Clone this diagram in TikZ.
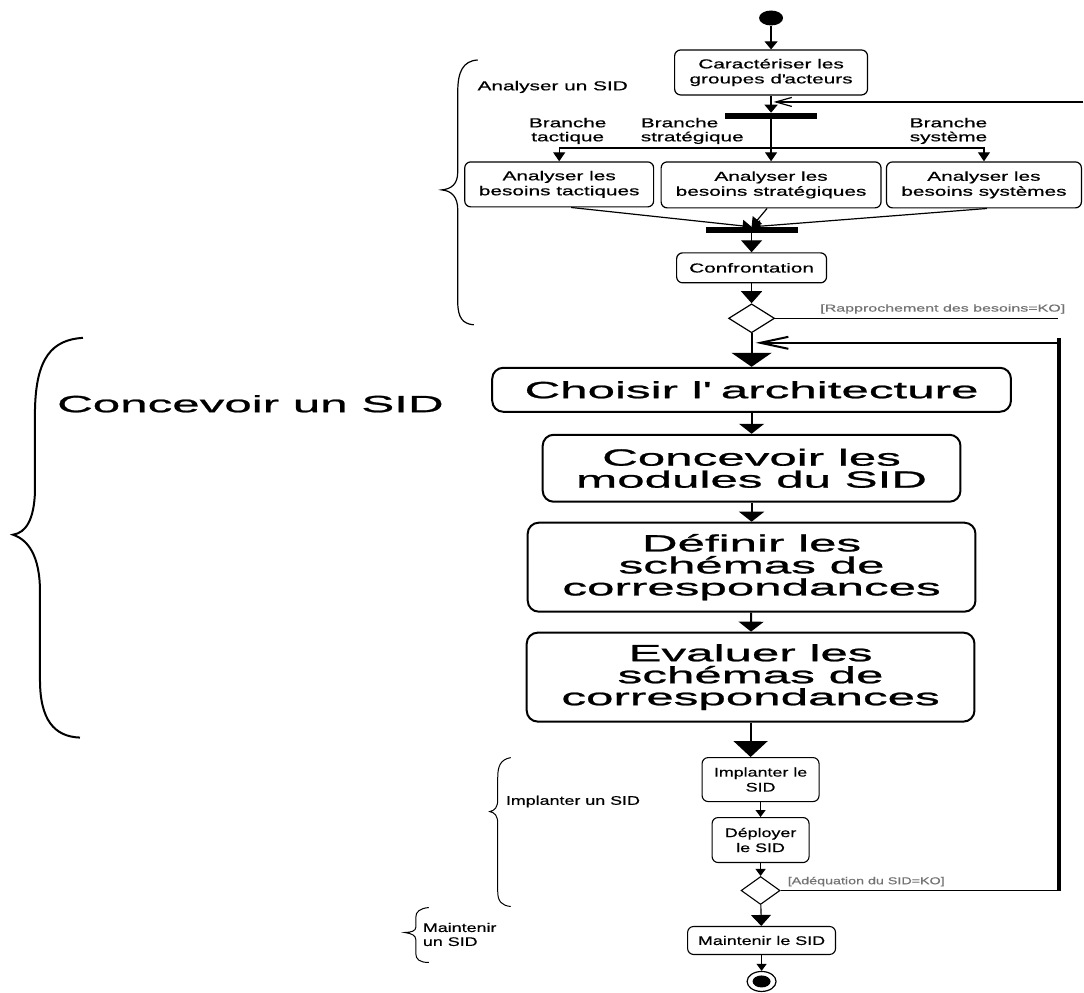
\documentclass[tikz,border=0pt]{standalone}
\usepackage{fontspec}
\usetikzlibrary{shapes.geometric,arrows.meta}
\newfontfamily\fT[FakeStretch=1.6,FakeBold=0.6]{Liberation Sans}
\newfontfamily\fM[FakeStretch=2.1,FakeBold=1]{Liberation Sans}
\newfontfamily\fB[FakeStretch=1.43,FakeBold=0.5]{Liberation Sans}
\tikzset{
  boxT/.style={draw, rounded corners=6pt, line width=1.2pt, inner sep=0pt, align=center,
    font=\fT\fontsize{13}{15}\selectfont},
  boxM/.style={draw, rounded corners=11pt, line width=2pt, inner sep=0pt, align=center,
    font=\fM\fontsize{23.5}{22}\selectfont},
  boxB/.style={draw, rounded corners=6pt, line width=1.1pt, inner sep=0pt, align=center,
    font=\fB\fontsize{12.5}{15}\selectfont},
  lblT/.style={inner sep=0pt, align=center, font=\fT\fontsize{13}{14}\selectfont},
  lblM/.style={inner sep=0pt, align=center, font=\fM\fontsize{23.5}{22}\selectfont},
  lblB/.style={inner sep=0pt, align=center, font=\fB\fontsize{12.5}{14}\selectfont},
  guardT/.style={inner sep=0pt, text=black!55, font=\fT\fontsize{10}{12}\selectfont},
  guardB/.style={inner sep=0pt, text=black!55, font=\fB\fontsize{10}{12}\selectfont},
  syncbar/.style={fill=black, draw=none, minimum height=6pt, inner sep=0pt},
  decision/.style={diamond, draw, line width=1.2pt, inner sep=0pt},
  startdot/.style={ellipse, fill=black, minimum width=24pt, minimum height=15pt, inner sep=0pt},
  endring/.style={ellipse, draw, line width=1.2pt, minimum width=29pt, minimum height=20pt, inner sep=0pt},
  enddot/.style={ellipse, fill=black, minimum width=18pt, minimum height=12pt, inner sep=0pt},
  lnT/.style={line width=1.2pt},
  lnM/.style={line width=2pt},
  aT/.style={lnT, -{Triangle[width=13pt,length=8pt]}},
  aTs/.style={lnT, -{Triangle[width=12pt,length=9pt]}},
  aTb/.style={lnT, -{Triangle[width=21pt,length=12pt]}},
  aM/.style={lnM, -{Triangle[width=25pt,length=10pt]}},
  aL/.style={lnM, -{Triangle[width=40pt,length=14pt]}},
  aLb/.style={lnM, -{Triangle[width=34pt,length=16pt]}},
  aB/.style={line width=1.1pt, -{Triangle[width=10pt,length=7pt]}},
  aBb/.style={line width=1.1pt, -{Triangle[width=20pt,length=11pt]}},
  openT/.style={lnT, -{Straight Barb[length=16pt,width=9pt]}},
  openM/.style={lnM, -{Straight Barb[length=28pt,width=12pt]}},
}
\begin{document}
\begin{tikzpicture}[x=1pt,y=-1pt]
\fill[white] (0,0) rectangle (1084,992);

% ---------- Analyser un SID ----------
\node[startdot] (start) at (771.5,18) {};
\node[boxT, minimum width=193pt, minimum height=45pt] (c1) at (771.5,72.5) {Caractériser les\\groupes d\textquotesingle acteurs};
\node[syncbar, minimum width=92pt] (bar1) at (771.5,116) {};
\coordinate (split) at (771.5,148);
\node[boxT, minimum width=189pt, minimum height=45pt] (t1) at (559.5,184.5) {Analyser les\\besoins tactiques};
\node[boxT, minimum width=220pt, minimum height=46pt] (t2) at (771.5,185) {Analyser les\\besoins stratégiques};
\node[boxT, minimum width=195pt, minimum height=46pt] (t3) at (984.5,185) {Analyser les\\besoins systèmes};
\node[lblT] (lb1) at (568,131) {Branche\\tactique};
\node[lblT, anchor=west, align=left] (lb2) at (641,131) {Branche\\stratégique};
\node[lblT] (lb3) at (949,131) {Branche\\système};
\coordinate (join) at (752,227);
\node[syncbar, minimum width=92pt] (bar2) at (752,230) {};
\node[boxT, minimum width=150pt, minimum height=30pt] (conf) at (752,268) {Confrontation};
\node[decision, minimum width=46pt, minimum height=29pt] (d1) at (752,318.5) {};
\coordinate (g1) at (1059,318.5);
\node[guardT, anchor=south east] (gl1) at (1066,314) {[Rapprochement des besoins=KO]};
\coordinate (fb1) at (1084,102);
\coordinate (fb1t) at (774,102);
\node[lblT] (an) at (553,87) {Analyser un SID};

\draw[aT] (start) -- (c1);
\draw[aT] (c1) -- (bar1);
\draw[lnT] (bar1) -- (split);
\draw[aTs] (split) -- (t2);
\draw[aTs] (split) -| (t1);
\draw[aTs] (split) -| (t3);
\draw[openT] (fb1) -- (fb1t);
\draw[aTs] ([xshift=12pt]t1.south) -- (join);
\draw[aTs] ([xshift=-4pt]t2.south) -- (join);
\draw[aTs] ([xshift=3pt]t3.south) -- (join);
\draw[aTb] (bar2) -- (conf);
\draw[aTb] (conf) -- (d1);
\draw[lnT] (d1.east) -- (g1);

\draw[line width=1.2pt] (478,60) .. controls (463,61) and (458,72) .. (458,92) -- (458,172)
  .. controls (458,184) and (452,189) .. (442,190)
  .. controls (452,191) and (458,197) .. (458,210) -- (458,302)
  .. controls (458,318) and (463,324) .. (474,325);

% ---------- Concevoir un SID ----------
\node[boxM, minimum width=519pt, minimum height=44pt] (ch) at (752,390) {Choisir l\textquotesingle\ architecture};
\node[boxM, minimum width=418pt, minimum height=67pt] (cm) at (752,468.5) {Concevoir les\\modules du SID};
\node[boxM, minimum width=448pt, minimum height=89pt] (ds) at (752,567.5) {Définir les\\schémas de\\correspondances};
\node[boxM, minimum width=448pt, minimum height=89pt] (es) at (751,677.5) {Evaluer les\\schémas de\\correspondances};
\node[lblM, anchor=west] (cn) at (57,404) {Concevoir un SID};
\coordinate (vtop) at (1060,338);
\coordinate (fb2) at (1060,343);
\coordinate (fb2t) at (756,343);

\draw[aL] (d1) -- (ch);
\draw[openM] (fb2) -- (fb2t);
\draw[aM] (ch) -- (cm);
\draw[aM] (cm) -- (ds);
\draw[aM] (ds) -- (es);

\draw[line width=2pt] (83,338) .. controls (52,340) and (36,358) .. (35,410) -- (35,492)
  .. controls (34,520) and (26,533) .. (13,535)
  .. controls (28,540) and (40,556) .. (40,592) -- (40,680)
  .. controls (40,720) and (54,737) .. (80,738);

% ---------- Implanter / Maintenir ----------
\node[boxB, minimum width=117pt, minimum height=44pt] (im) at (761,780) {Implanter le\\SID};
\node[boxB, minimum width=97pt, minimum height=45pt] (de) at (761,840.5) {Déployer\\le SID};
\node[decision, line width=1.1pt, minimum width=39pt, minimum height=28pt] (d2) at (761,891) {};
\coordinate (g2) at (1060,891);
\node[guardB, anchor=south west] (gl2) at (788,887) {[Adéquation du SID=KO]};
\node[boxB, minimum width=148pt, minimum height=28pt] (mt) at (762,941) {Maintenir le SID};
\node[endring] (fin) at (762,982) {};
\node[enddot] (fin2) at (fin) {};
\node[lblB, anchor=west] (il) at (506,802) {Implanter un SID};
\node[lblB, anchor=west, align=left] (ml) at (423,935) {Maintenir\\un SID};

\draw[aLb] (es.south) -- (es.south |- im.north);
\draw[aB] (im) -- (de);
\draw[aB] (de) -- (d2);
\draw[line width=1.1pt] (d2.east) -- (g2);
\draw[line width=4pt] (g2) -- (vtop);
\draw[aBb] (d2) -- (mt);
\draw[aB] (mt) -- (fin);

\draw[line width=1pt] (511,758) .. controls (501,760) and (498,766) .. (498,778) -- (498,800)
  .. controls (498,808) and (495,811) .. (490,812)
  .. controls (495,813) and (498,816) .. (498,824) -- (498,892)
  .. controls (498,902) and (502,906) .. (511,907);
\draw[line width=1pt] (429,908) .. controls (420,909) and (416,912) .. (416,918) -- (416,928)
  .. controls (416,931) and (412,933) .. (405,933)
  .. controls (412,934) and (416,936) .. (416,940) -- (416,954)
  .. controls (416,960) and (420,963) .. (429,963);
\end{tikzpicture}
\end{document}
